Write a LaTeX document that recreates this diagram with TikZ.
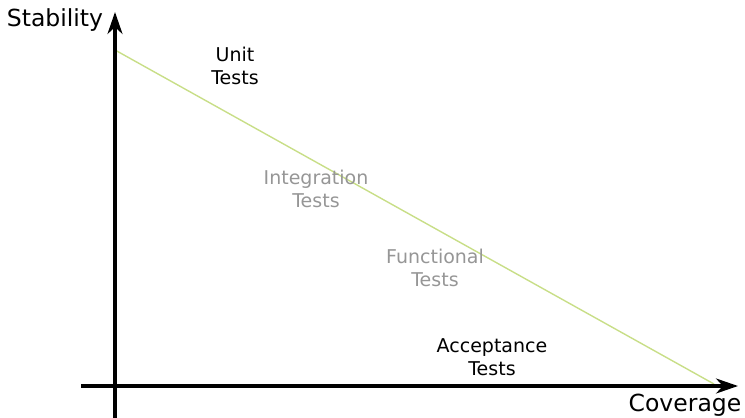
\documentclass[tikz,border=0pt]{standalone}
\usepackage{fontspec}
\setmainfont{DejaVu Sans}
\usetikzlibrary{arrows.meta}
\definecolor{linegreen}{RGB}{200,222,135}
\definecolor{lightgray}{RGB}{150,150,150}
\begin{document}
\begin{tikzpicture}[x=1pt,y=-1pt,
  axis/.style={line width=3.2pt,-{Stealth[length=22pt,width=15pt,inset=7pt]}},
  big/.style={font=\fontsize{23.5}{27}\selectfont, inner sep=0pt},
  lbl/.style={font=\fontsize{19}{23.5}\selectfont, align=center, inner sep=0pt},
  graylbl/.style={lbl, text=lightgray}]
\useasboundingbox (0,0) rectangle (745,418);
\coordinate (ybot) at (115,418);
\coordinate (ytop) at (115,12);
\coordinate (xleft) at (81,386);
\coordinate (xright) at (738,386);
\coordinate (ls) at (115,50);
\coordinate (le) at (714,384);
\draw[linegreen, line width=1.4pt] (ls) -- (le);
\draw[axis] (ybot) -- (ytop);
\draw[axis] (xleft) -- (xright);
\node[big] (stab) at (55,20) {Stability};
\node[big] (cov) at (685,405) {Coverage};
\node[lbl] (unit) at (235,66) {Unit\\Tests};
\node[graylbl] (integ) at (316,189) {Integration\\Tests};
\node[graylbl] (func) at (435,268) {Functional\\Tests};
\node[lbl] (acc) at (492,357) {Acceptance\\Tests};
\end{tikzpicture}
\end{document}
